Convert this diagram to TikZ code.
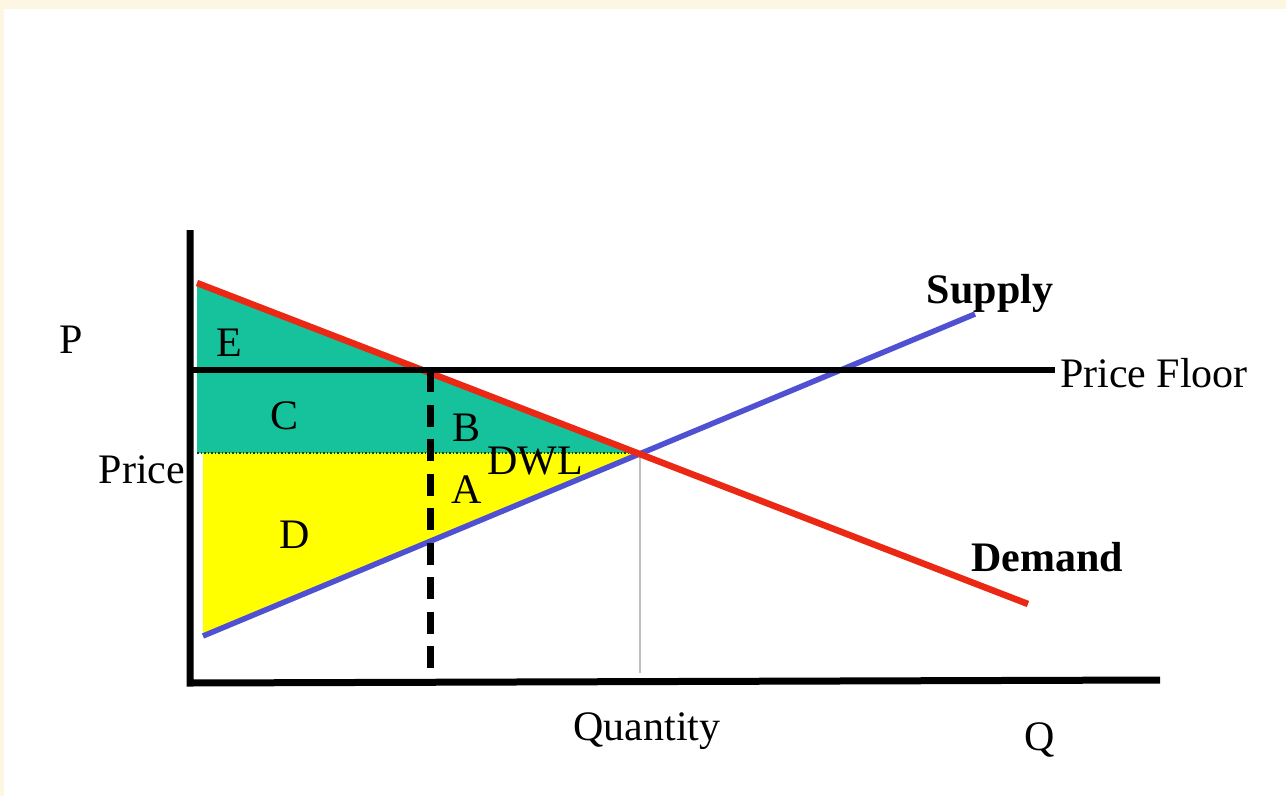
\documentclass[tikz,border=0pt]{standalone}
\usepackage{fontspec}
\setmainfont{Liberation Serif}
\definecolor{cream}{RGB}{253,246,226}
\definecolor{teal}{RGB}{22,194,156}
\definecolor{yel}{RGB}{255,255,0}
\definecolor{dred}{RGB}{235,40,20}
\definecolor{sblue}{RGB}{80,80,210}
\begin{document}
\begin{tikzpicture}[x=1pt,y=-1pt,
  lbl/.style={inner sep=0pt,font=\fontsize{42}{46}\selectfont},
  blbl/.style={inner sep=0pt,font=\fontsize{42}{46}\selectfont\bfseries},
  axis/.style={line width=7pt,black},
  curve/.style={line width=6.5pt}]
\useasboundingbox (0,0) rectangle (1286,796);
\fill[cream] (0,0) rectangle (1286,796);
\fill[white] (4,9) rectangle (1286,796);
% key points
\coordinate (o) at (190,683);
\coordinate (ytop) at (190,230);
\coordinate (xend) at (1160,680);
\coordinate (d0) at (197,283);
\coordinate (d1) at (1028,604);
\coordinate (s0) at (203,636);
\coordinate (s1) at (975,314);
\coordinate (eq) at (640,453);
\coordinate (pe) at (197,453);
\coordinate (pe2) at (203,453);
\coordinate (f0) at (190,370);
\coordinate (f1) at (1055,370);
\coordinate (q0) at (430,370);
\coordinate (q1) at (430,668);
\coordinate (eqb) at (640,673);
% areas
\fill[teal] (d0) -- (eq) -- (pe) -- cycle;
\fill[yel] (pe2) -- (eq) -- (s0) -- cycle;
\draw[line width=1.5pt,dotted,black!70!green] (pe) -- (eq);
\draw[line width=1.2pt,black!25] (eq) -- (eqb);
% curves
\draw[curve,sblue,line width=5.5pt] (s0) -- (s1);
\draw[curve,dred] (d0) -- (d1);
\draw[line width=6.5pt] (f0) -- (f1);
\draw[line width=7pt,dash pattern=on 22pt off 12.5pt] (q0) -- (q1);
% axes
\draw[axis] (ytop) -- (o) -- (xend);
% labels
\node[lbl] (lP) at (71,340) {P};
\node[lbl] (lPrice) at (142,470) {Price};
\node[lbl] (lE) at (229,343) {E};
\node[lbl] (lC) at (285,416) {C};
\node[lbl] (lB) at (467,428) {B};
\node[lbl] (lDWL) at (535,461) {DWL};
\node[lbl] (lA) at (467,490) {A};
\node[lbl] (lD) at (295,535) {D};
\node[blbl] (lS) at (990,293) {Supply};
\node[lbl] (lPF) at (1154,373) {Price Floor};
\node[blbl] (lDem) at (1047,557) {Demand};
\node[lbl] (lQty) at (647,731) {Quantity};
\node[lbl] (lQ) at (1040,740) {Q};
\end{tikzpicture}
\end{document}
